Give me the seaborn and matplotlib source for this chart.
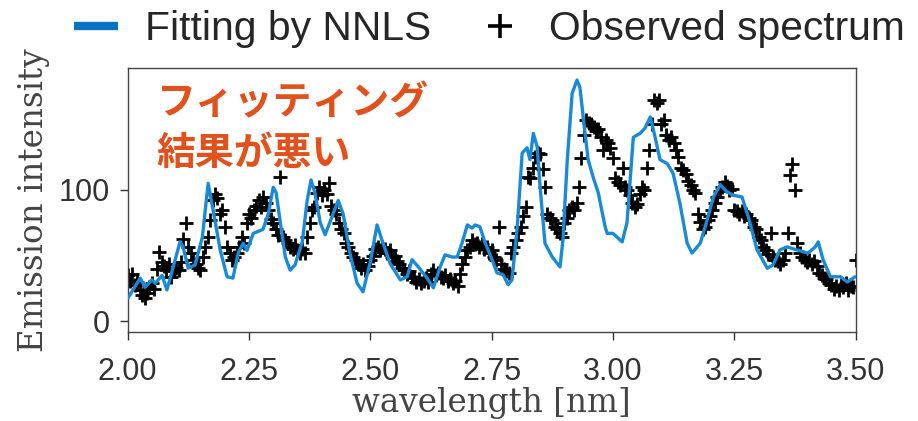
import numpy as np
import matplotlib
matplotlib.use("Agg")
import matplotlib.pyplot as plt
from matplotlib.lines import Line2D
import seaborn as sns

# ---------------- data ----------------
fit_wl = [2.001, 2.026, 2.036, 2.050, 2.057, 2.071, 2.081, 2.094, 2.108, 2.114,
          2.125, 2.139, 2.154, 2.166, 2.176, 2.191, 2.205, 2.217, 2.228, 2.238,
          2.246, 2.259, 2.279, 2.290, 2.300, 2.306, 2.314, 2.325, 2.335, 2.345,
          2.360, 2.370, 2.378, 2.386, 2.397, 2.407, 2.421, 2.434, 2.444, 2.458,
          2.473, 2.485, 2.500, 2.514, 2.524, 2.541, 2.562, 2.576, 2.586, 2.599,
          2.617, 2.630, 2.644, 2.654, 2.669, 2.679, 2.689, 2.700, 2.710, 2.716,
          2.726, 2.736, 2.751, 2.761, 2.774, 2.784, 2.792, 2.803, 2.813, 2.823,
          2.829, 2.836, 2.844, 2.850, 2.860, 2.875, 2.891, 2.897, 2.906, 2.916,
          2.926, 2.932, 2.941, 2.949, 2.959, 2.970, 2.974, 2.984, 2.988, 3.000,
          3.019, 3.029, 3.042, 3.056, 3.066, 3.077, 3.087, 3.097, 3.112, 3.124,
          3.138, 3.153, 3.163, 3.180, 3.194, 3.207, 3.221, 3.235, 3.248, 3.266,
          3.279, 3.297, 3.318, 3.330, 3.344, 3.359, 3.379, 3.402, 3.417, 3.423,
          3.433, 3.448, 3.469, 3.483, 3.499]
fit_val = [18, 33, 26, 31.6, 29, 35, 24, 41.5, 60.5, 57,
           40.5, 43, 64, 105, 85, 54, 34, 33, 52, 59.5,
           54, 67, 70, 82, 102, 98, 77, 49, 39, 43,
           60.5, 92, 107.6, 97.6, 75, 66, 79.5, 92, 82, 52,
           29, 22.6, 45, 73.4, 62, 44, 31.6, 34, 47, 41.5,
           33, 25.6, 41.5, 50.6, 49, 49, 59.5, 73.4, 71, 73.4,
           72, 60.5, 47, 37, 35.4, 28, 31.6, 72, 128, 132,
           123, 143, 132.7, 102, 59.5, 49, 41.5, 62, 123, 173.5,
           183.5, 178, 148, 123, 110, 97.6, 90, 72, 67, 67,
           60.5, 75, 140, 143, 147, 155.5, 140, 123, 120, 112.6,
           90, 59.5, 52, 59.5, 77, 94.6, 104, 98.6, 96, 94.6,
           79.5, 54.4, 40.5, 43, 54.4, 56.7, 54.4, 52, 56.7, 60.5,
           47, 34, 34, 30, 34]

obs_wl = np.round(np.linspace(2.0, 3.5, 301), 3)
obs_val = [35, 31, 36, 28, 30, 24, 20, 18, 22, 26,
           29, 25, 40, 53, 45, 42, 39, 44, 34, 38,
           41, 39, 45, 63, 75, 57, 52, 47, 44, 41,
           39, 49, 57, 64, 77, 92, 97, 94, 82, 85,
           72, 57, 52, 47, 49, 52, 57, 64, 60, 75,
           82, 79, 85, 88, 92, 87, 95, 90, 85, 78,
           75, 70, 66, 110, 64, 62, 60, 57, 55, 58,
           54, 52, 55, 52, 64, 75, 85, 87, 98, 102,
           96, 100, 97, 105, 88, 85, 82, 75, 70, 67,
           60, 57, 52, 49, 47, 44, 41, 44, 39, 42,
           47, 50, 55, 57, 54, 57, 55, 52, 54, 49,
           50, 46, 44, 41, 39, 36, 38, 34, 33, 30,
           32, 29, 31, 33, 30, 36, 39, 35, 37, 34,
           33, 35, 31, 32, 29, 31, 27, 36, 44, 49,
           54, 57, 62, 59, 60, 57, 59, 55, 57, 52,
           54, 49, 47, 72, 44, 40, 38, 37, 52, 57,
           62, 67, 72, 80, 87, 110, 109, 117, 125, 128,
           127, 116, 102, 82, 79, 77, 72, 70, 67, 64,
           75, 79, 85, 87, 85, 90, 102, 124, 142, 153,
           151, 150, 148, 145, 146, 140, 130, 138, 136, 132,
           124, 109, 106, 104, 117, 102, 100, 96, 90, 87,
           89, 97, 102, 100, 117, 130, 150, 168, 166, 168,
           150, 153, 142, 138, 140, 136, 130, 125, 117, 115,
           112, 107, 104, 100, 98, 82, 76, 70, 72, 77,
           80, 85, 90, 95, 99, 102, 106, 103, 100, 101,
           85, 84, 82, 84, 80, 82, 79, 77, 72, 70,
           64, 62, 57, 54, 51, 67, 49, 47, 46, 44,
           47, 52, 67, 111, 120, 100, 60, 52, 49, 47,
           45, 47, 44, 46, 42, 37, 35, 33, 32, 29,
           28, 25, 27, 24, 28, 26, 29, 24, 27, 26,
           47]

x_ticks = [2.00, 2.25, 2.50, 2.75, 3.00, 3.25, 3.50]
y_ticks = [0, 100]
legend_labels = ["Fitting by NNLS", "Observed spectrum"]
annotation = "フィッティング\n結果が悪い"

# ---------------- style ----------------
sns.set_theme(style="ticks")
plt.rcParams['font.family'] = ['Liberation Sans', 'DejaVu Sans']

line_color = "#1a8ad8"
legend_line_color = "#0a72c4"
note_color = "#e2511c"

fig = plt.figure(figsize=(9.18, 4.21), dpi=100)
ax = fig.add_axes([0.139, 0.2114, 0.793, 0.628])

sns.scatterplot(x=obs_wl, y=obs_val, ax=ax, marker="+", s=90, color="black",
                linewidth=2.0, zorder=2, legend=False)
sns.lineplot(x=fit_wl, y=fit_val, ax=ax, color=line_color, linewidth=2.4,
             zorder=3, legend=False)

ax.set_xlim(2.0, 3.5)
ax.set_ylim(-8, 193)
ax.set_xticks(x_ticks)
ax.set_xticklabels([f"{v:.2f}" for v in x_ticks])
ax.set_yticks(y_ticks)
ax.tick_params(labelsize=22, colors="#333333", length=6, width=1)
ax.tick_params(axis="x", pad=12)
ax.tick_params(axis="y", pad=7)
for sp in ax.spines.values():
    sp.set_color("#444444")
    sp.set_linewidth(1.0)
    sp.set_visible(True)

ax.set_xlabel("wavelength [nm]", family="DejaVu Serif", fontsize=23.5,
              color="#444444", labelpad=0)
ax.set_ylabel("Emission intensity", family="DejaVu Serif", fontsize=23.5,
              color="#444444", labelpad=6)

ax.text(0.04, 0.94, annotation, transform=ax.transAxes, ha="left", va="top",
        fontsize=28, fontweight="bold", color=note_color, linespacing=1.38,
        family=["Noto Sans CJK JP", "DejaVu Sans"])

handles = [Line2D([], [], color=legend_line_color, linewidth=6, solid_capstyle="butt"),
           Line2D([], [], color="black", marker="+", linestyle="none",
                  markersize=17, markeredgewidth=2.6)]
fig.legend(handles, legend_labels, loc="center", bbox_to_anchor=(0.533, 0.93),
           ncol=2, frameon=False, fontsize=29.3, handlelength=1.08,
           handletextpad=0.67, columnspacing=1.15, borderpad=0, borderaxespad=0)

fig.savefig("out.png", dpi=100)
